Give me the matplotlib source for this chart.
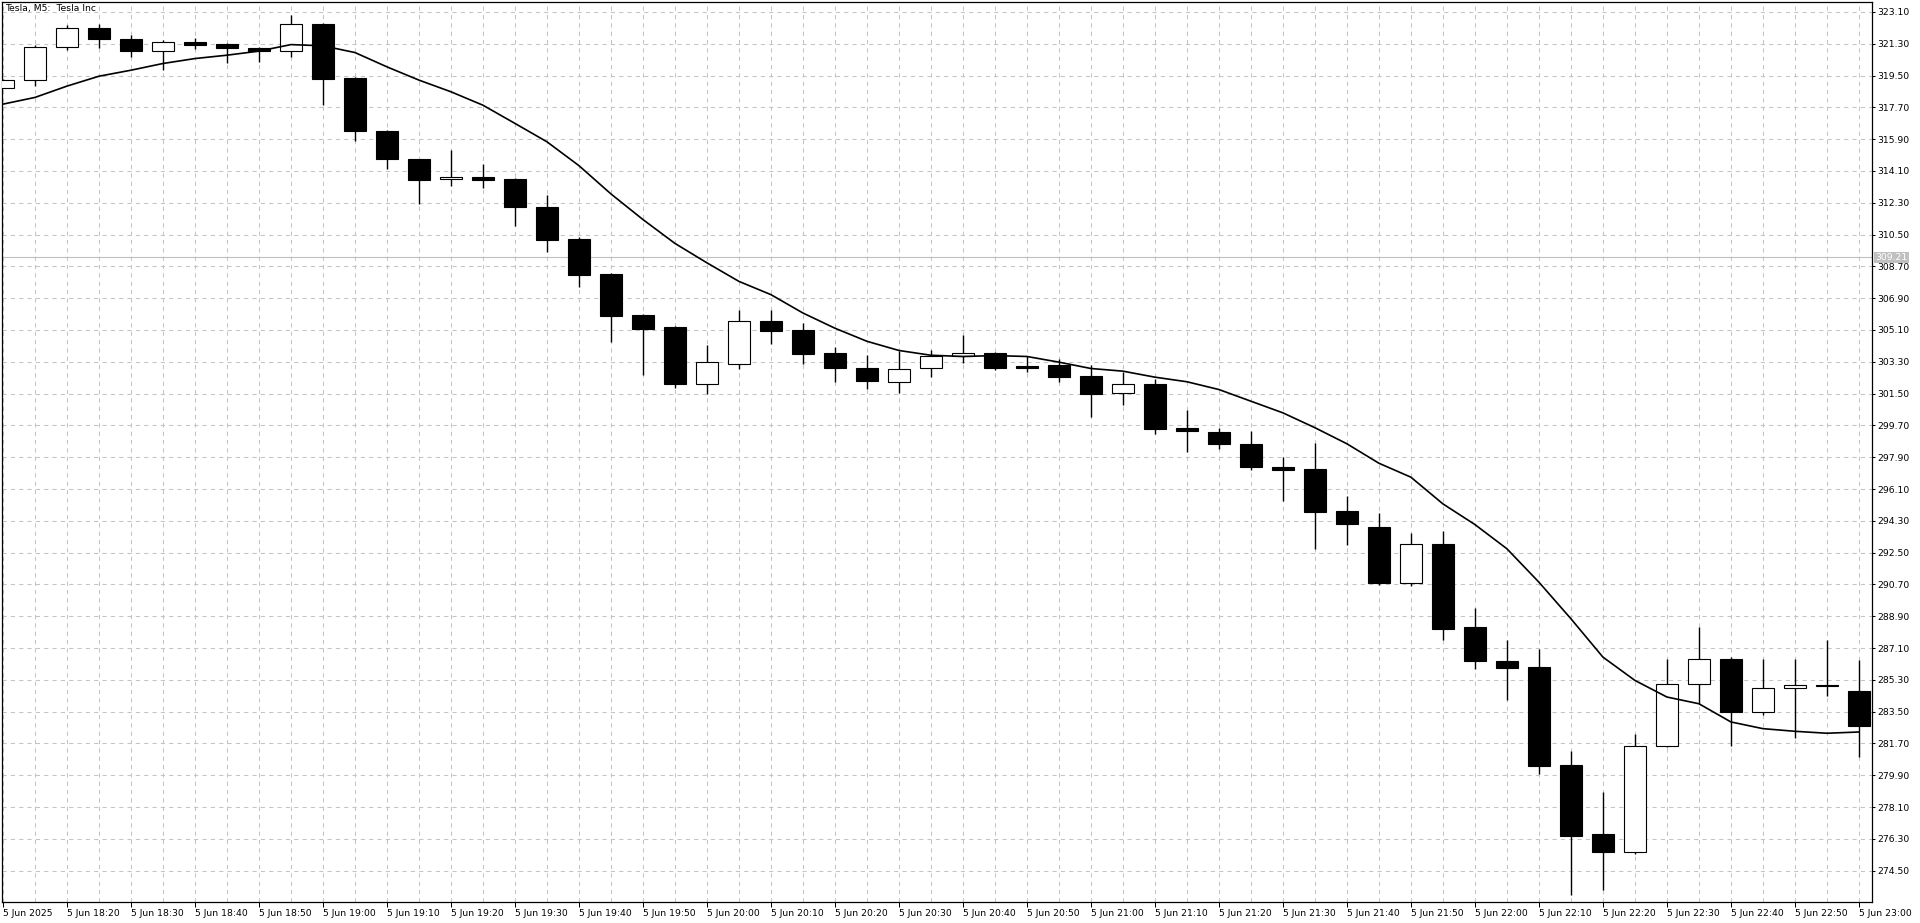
import matplotlib
matplotlib.use("Agg")
import matplotlib.pyplot as plt

# Tesla M5 candles, 5 Jun 18:10 .. 23:00
opens = [318.82, 319.27, 321.14, 322.21, 321.59, 320.89, 321.37, 321.29, 321.03, 320.89,
         322.44, 319.35, 316.35, 314.77, 313.62, 313.76, 313.64, 312.06, 310.25, 308.28,
         305.97, 305.25, 302.06, 303.18, 305.63, 305.12, 303.77, 302.97, 302.18, 302.97,
         303.63, 303.82, 303.05, 303.09, 302.47, 301.51, 302.07, 299.55, 299.30, 298.64,
         297.36, 297.21, 294.87, 293.96, 290.79, 293.00, 288.27, 286.38, 286.01, 280.47,
         276.55, 275.57, 281.58, 285.08, 286.50, 283.48, 284.84, 285.02, 284.65]
highs = [319.30, 321.20, 322.38, 322.40, 321.78, 321.50, 321.65, 321.32, 321.10, 322.91,
         322.46, 319.42, 316.40, 314.80, 315.28, 314.49, 313.68, 312.73, 310.34, 308.30,
         306.00, 305.31, 304.24, 306.21, 306.21, 305.50, 304.12, 303.67, 303.90, 303.99,
         304.84, 303.86, 303.62, 303.43, 303.14, 302.73, 302.30, 300.55, 299.57, 299.38,
         297.91, 298.70, 295.73, 294.73, 293.60, 293.70, 289.34, 287.53, 287.06, 281.26,
         278.96, 282.22, 286.50, 288.29, 286.59, 286.50, 286.50, 287.53, 286.40]
lows = [318.80, 318.90, 320.93, 321.06, 320.56, 319.84, 321.01, 320.22, 320.27, 320.56,
        317.82, 315.79, 314.22, 312.21, 313.26, 313.15, 310.98, 309.53, 307.51, 304.41,
        302.54, 301.81, 301.47, 302.92, 304.31, 303.20, 302.15, 301.77, 301.52, 302.43,
        303.24, 302.81, 302.73, 302.17, 300.19, 300.85, 299.19, 298.19, 298.38, 297.19,
        295.40, 292.73, 292.96, 290.66, 290.59, 287.53, 285.90, 284.14, 279.96, 273.12,
        273.40, 275.47, 281.50, 283.95, 281.54, 283.29, 281.99, 284.37, 280.95]
closes = [319.27, 321.14, 322.21, 321.57, 320.89, 321.37, 321.25, 321.03, 320.88, 322.44,
          319.31, 316.37, 314.79, 313.60, 313.76, 313.60, 312.07, 310.21, 308.22, 305.91,
          305.18, 302.04, 303.30, 305.63, 305.07, 303.75, 302.96, 302.22, 302.92, 303.60,
          303.82, 302.96, 302.97, 302.45, 301.49, 302.07, 299.51, 299.36, 298.62, 297.36,
          297.19, 294.82, 294.11, 290.78, 292.98, 288.18, 286.37, 285.97, 280.45, 276.47,
          275.57, 281.58, 285.08, 286.50, 283.46, 284.84, 285.01, 284.95, 282.67]
# moving average as drawn on the chart
ma = [317.88, 318.26, 318.90, 319.46, 319.80, 320.18, 320.46, 320.65, 320.88, 321.25,
      321.18, 320.80, 319.99, 319.24, 318.58, 317.82, 316.79, 315.75, 314.40, 312.80,
      311.35, 310.00, 308.90, 307.85, 307.10, 306.06, 305.20, 304.46, 303.94, 303.67,
      303.60, 303.65, 303.60, 303.28, 302.92, 302.77, 302.43, 302.17, 301.73, 301.07,
      300.41, 299.57, 298.66, 297.56, 296.77, 295.26, 294.09, 292.72, 290.83, 288.76,
      286.59, 285.27, 284.33, 283.95, 282.92, 282.54, 282.39, 282.28, 282.35]

x_labels = ["5 Jun 2025", "5 Jun 18:20", "5 Jun 18:30", "5 Jun 18:40", "5 Jun 18:50",
            "5 Jun 19:00", "5 Jun 19:10", "5 Jun 19:20", "5 Jun 19:30", "5 Jun 19:40",
            "5 Jun 19:50", "5 Jun 20:00", "5 Jun 20:10", "5 Jun 20:20", "5 Jun 20:30",
            "5 Jun 20:40", "5 Jun 20:50", "5 Jun 21:00", "5 Jun 21:10", "5 Jun 21:20",
            "5 Jun 21:30", "5 Jun 21:40", "5 Jun 21:50", "5 Jun 22:00", "5 Jun 22:10",
            "5 Jun 22:20", "5 Jun 22:30", "5 Jun 22:40", "5 Jun 22:50", "5 Jun 23:00"]
y_ticks = [323.10, 321.30, 319.50, 317.70, 315.90, 314.10, 312.30, 310.50, 308.70, 306.90,
           305.10, 303.30, 301.50, 299.70, 297.90, 296.10, 294.30, 292.50, 290.70, 288.90,
           287.10, 285.30, 283.50, 281.70, 279.90, 278.10, 276.30, 274.50]
last_price = 309.21

FS = 6.7
GRID = "#c4c4c4"

fig = plt.figure(figsize=(19.2, 9.23), dpi=100)
ax = fig.add_axes([2 / 1920, 21 / 923, 1870 / 1920, 900 / 923])
ax.set_xlim(-0.03, 58.41)
ax.set_ylim(272.73, 323.66)

n = len(opens)
xs = list(range(n))

# grid: a vertical line on every bar, labels every 10 minutes
ax.set_xticks(xs, minor=True)
ax.set_xticks(xs[::2])
ax.set_xticklabels(x_labels, fontsize=FS)
for lbl in ax.get_xticklabels():
    lbl.set_horizontalalignment("left")
ax.set_yticks(y_ticks)
ax.set_yticklabels(["%.2f" % v for v in y_ticks], fontsize=FS)
ax.yaxis.tick_right()
ax.tick_params(axis="y", which="major", direction="out", length=2.5, width=0.75, pad=1.5)
ax.tick_params(axis="x", which="major", direction="out", length=3.5, width=0.75, pad=1.5)
ax.tick_params(axis="x", which="minor", length=0)
ax.grid(True, axis="x", which="both", color=GRID, linestyle=(0, (4, 4)), linewidth=0.75, zorder=0)
ax.grid(True, axis="y", which="major", color=GRID, linestyle=(0, (4, 4)), linewidth=0.75, zorder=0)
ax.set_axisbelow(True)
for sp in ax.spines.values():
    sp.set_linewidth(0.9)
    sp.set_color("black")

# last price line
ax.axhline(last_price, color="#c0c0c0", linewidth=0.8, zorder=1)
ax.annotate("%.2f" % last_price, xy=(1, last_price), xycoords=ax.get_yaxis_transform(),
            xytext=(2.6, 0), textcoords="offset points", ha="left", va="center",
            fontsize=FS, color="white", annotation_clip=False, zorder=6,
            bbox=dict(boxstyle="square,pad=0.12", fc="#c0c0c0", ec="none"))

# candles
ax.vlines(xs, lows, highs, color="black", linewidth=1.0, zorder=2)
bottoms = [min(o, c) for o, c in zip(opens, closes)]
heights = [max(abs(c - o), 0.04) for o, c in zip(opens, closes)]
fills = ["white" if c >= o else "black" for o, c in zip(opens, closes)]
ax.bar(xs, heights, bottom=bottoms, width=0.69, color=fills, edgecolor="black",
       linewidth=0.8, zorder=3)

ax.plot(xs, ma, color="black", linewidth=1.2, zorder=4)

fig.text(5 / 1920, 1 - 9 / 923, "Tesla, M5:  Tesla Inc", fontsize=FS, ha="left", va="center")

fig.savefig("out.png", dpi=100, facecolor="white")
